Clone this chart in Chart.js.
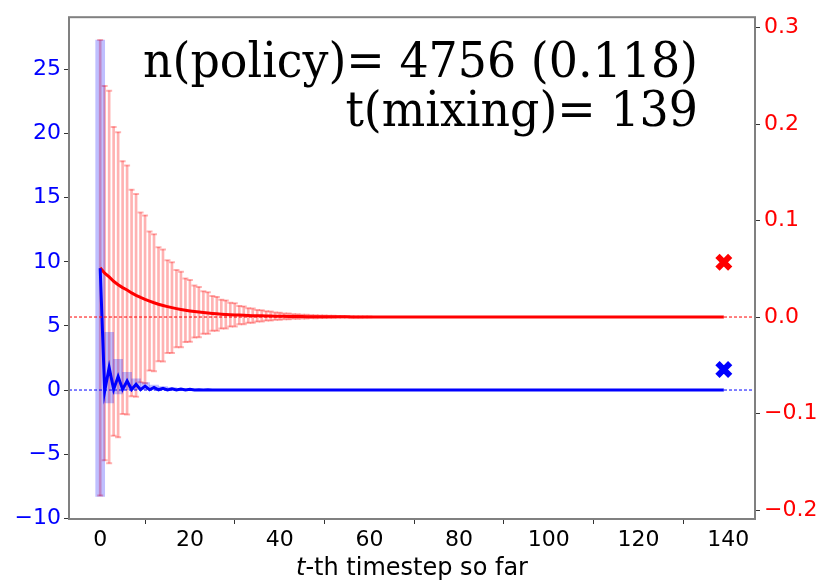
<!DOCTYPE html>
<html>
<head>
<meta charset="utf-8">
<script src="https://cdn.jsdelivr.net/npm/chart.js@4.4.1/dist/chart.umd.min.js"></script>
<style>
  html, body { margin: 0; padding: 0; background: #fff; }
  #wrap { width: 831px; height: 588px; position: relative; }
</style>
</head>
<body>
<div id="wrap"><canvas id="canvas"></canvas></div>
<script>
// ---- data ----
var redMean = [
  0.051, 0.0455, 0.0415, 0.037, 0.0335, 0.0305, 0.028, 0.025, 0.0225, 0.0203,
  0.0183, 0.0165, 0.0148, 0.0133, 0.012, 0.0108, 0.0097, 0.0087, 0.0078, 0.007,
  0.0063, 0.0057, 0.0051, 0.0046, 0.0041, 0.0037, 0.0033, 0.003, 0.0027, 0.0024,
  0.0022, 0.002, 0.0018, 0.0016, 0.0014, 0.0013, 0.0012, 0.0011, 0.001, 0.0009,
  0.0008, 0.0007, 0.0006, 0.0006, 0.0005, 0.0005, 0.0004, 0.0004, 0.0003, 0.0003,
  0.0003, 0.0002, 0.0002, 0.0002, 0.0002, 0.0002, 0.0001, 0.0001, 0.0001, 0.0001,
  0.0001, 0.0001, 0.0001, 0, 0, 0, 0, 0, 0, 0,
  0, 0, 0, 0, 0, 0, 0, 0, 0, 0,
  0, 0, 0, 0, 0, 0, 0, 0, 0, 0,
  0, 0, 0, 0, 0, 0, 0, 0, 0, 0,
  0, 0, 0, 0, 0, 0, 0, 0, 0, 0,
  0, 0, 0, 0, 0, 0, 0, 0, 0, 0,
  0, 0, 0, 0, 0, 0, 0, 0, 0, 0,
  0, 0, 0, 0, 0, 0, 0, 0, 0, 0
];
var redSd = [
  0.236,
  0.194, 0.193, 0.16, 0.158, 0.131, 0.129, 0.107, 0.105, 0.088, 0.087,
  0.072, 0.071, 0.059, 0.058, 0.048, 0.047, 0.04, 0.039, 0.033, 0.032,
  0.027, 0.026, 0.022, 0.0215, 0.018, 0.0175, 0.015, 0.0145, 0.0123, 0.012,
  0.0095, 0.0092, 0.0076, 0.0074, 0.006, 0.0058, 0.0048, 0.0047, 0.0038, 0.0037,
  0.003, 0.003, 0.0024, 0.0024, 0.0019, 0.0019, 0.0015, 0.0015, 0.0012, 0.0012,
  0.001, 0.001, 0.0008, 0.0008, 0.0006, 0.0006, 0.0005, 0.0005, 0.0004, 0.0004
];
var blueMean = [
  9.5, -0.1, 1.75, 0.05, 1.05, 0.05, 0.7, 0.04, 0.45, 0.03,
  0.3, 0.02, 0.2, 0.02, 0.14, 0.01, 0.1, 0.01, 0.07, 0.01,
  0.05, 0, 0.03, 0, 0.02, 0, 0.01, 0, 0, 0,
  0, 0, 0, 0, 0, 0, 0, 0, 0, 0,
  0, 0, 0, 0, 0, 0, 0, 0, 0, 0,
  0, 0, 0, 0, 0, 0, 0, 0, 0, 0,
  0, 0, 0, 0, 0, 0, 0, 0, 0, 0,
  0, 0, 0, 0, 0, 0, 0, 0, 0, 0,
  0, 0, 0, 0, 0, 0, 0, 0, 0, 0,
  0, 0, 0, 0, 0, 0, 0, 0, 0, 0,
  0, 0, 0, 0, 0, 0, 0, 0, 0, 0,
  0, 0, 0, 0, 0, 0, 0, 0, 0, 0,
  0, 0, 0, 0, 0, 0, 0, 0, 0, 0,
  0, 0, 0, 0, 0, 0, 0, 0, 0, 0
];
var blueBandT = [0, 2, 4, 6, 8, 10, 12, 14, 16, 18, 20, 22];
var blueBandSd = [17.8, 2.75, 1.35, 0.68, 0.42, 0.28, 0.19, 0.13, 0.09, 0.06, 0.04, 0.03];

var finalT = 139;
var blueFinal = 1.6;
var redFinal = 0.0567;

var xTicks = [0, 20, 40, 60, 80, 100, 120, 140];
var leftTicks = [-10, -5, 0, 5, 10, 15, 20, 25];
var rightTicks = [-0.2, -0.1, 0.0, 0.1, 0.2, 0.3];

var textLine1 = "n(policy)= 4756 (0.118)";
var textLine2 = "t(mixing)= 139";

// ---- build datasets ----
var blueLine = blueMean.map(function(v, i) { return { x: i, y: v }; });
var redLine = redMean.map(function(v, i) { return { x: i, y: v }; });
var redBars = [], redCapsHi = [], redCapsLo = [];
redSd.forEach(function(sd, i) {
  var m = redMean[i];
  redBars.push({ x: i, y: [m - sd, m + sd] });
  redCapsHi.push({ x: i, y: m + sd });
  redCapsLo.push({ x: i, y: m - sd });
});
var blueBand = blueBandT.map(function(t, k) {
  var m = blueMean[t];
  return { x: t, y: [m - blueBandSd[k], m + blueBandSd[k]] };
});

var TICK_FONT = { family: "DejaVu Sans", size: 22 };

function minusFmt(s) { return s.replace("-", "\u2212"); }

var overlay = {
  id: "overlay",
  afterDatasetsDraw: function(chart) {
    var ctx = chart.ctx, a = chart.chartArea;
    var yl = chart.scales.y, yr = chart.scales.y2;
    ctx.save();
    ctx.lineWidth = 1;
    ctx.setLineDash([3, 2]);
    ctx.strokeStyle = "#ff0000";
    var py = yr.getPixelForValue(0);
    ctx.beginPath(); ctx.moveTo(a.left, py); ctx.lineTo(a.right, py); ctx.stroke();
    ctx.strokeStyle = "#0000ff";
    py = yl.getPixelForValue(0);
    ctx.beginPath(); ctx.moveTo(a.left, py); ctx.lineTo(a.right, py); ctx.stroke();
    ctx.restore();
  },
  afterDraw: function(chart) {
    var ctx = chart.ctx, a = chart.chartArea;
    ctx.save();
    // frame
    ctx.strokeStyle = "#808080";
    ctx.lineWidth = 2;
    ctx.strokeRect(a.left, a.top, a.right - a.left, a.bottom - a.top);
    // annotation text
    ctx.fillStyle = "#000";
    ctx.font = '48px "DejaVu Serif"';
    ctx.textAlign = "right";
    ctx.textBaseline = "alphabetic";
    var sx = 555 / ctx.measureText(textLine1).width;
    ctx.save(); ctx.translate(698, 77); ctx.scale(sx, 1); ctx.fillText(textLine1, 0, 0); ctx.restore();
    ctx.save(); ctx.translate(698, 126); ctx.scale(sx, 1); ctx.fillText(textLine2, 0, 0); ctx.restore();
    // x axis title with italic t
    ctx.textAlign = "left";
    ctx.font = 'italic 24px "DejaVu Sans"';
    var w1 = ctx.measureText("t").width;
    ctx.font = '24px "DejaVu Sans"';
    var rest = "-th timestep so far";
    var w2 = ctx.measureText(rest).width;
    var cx = (a.left + a.right) / 2;
    var x0 = cx - (w1 + w2) / 2;
    ctx.font = 'italic 24px "DejaVu Sans"';
    ctx.fillText("t", x0, 575);
    ctx.font = '24px "DejaVu Sans"';
    ctx.fillText(rest, x0 + w1, 575);
    ctx.restore();
  }
};

var ctx = document.getElementById("canvas").getContext("2d");
window.myChart = new Chart(ctx, {
  type: "line",
  data: {
    datasets: [
      {
        type: "scatter", label: "final-blue", data: [{ x: finalT, y: blueFinal }], yAxisID: "y",
        pointStyle: "crossRot", pointRadius: 9, borderWidth: 6,
        borderColor: "#0000ff", backgroundColor: "#0000ff", order: 0
      },
      {
        type: "scatter", label: "final-red", data: [{ x: finalT, y: redFinal }], yAxisID: "y2",
        pointStyle: "crossRot", pointRadius: 9, borderWidth: 6,
        borderColor: "#ff0000", backgroundColor: "#ff0000", order: 0
      },
      {
        type: "line", label: "blue", data: blueLine, yAxisID: "y",
        borderColor: "#0000ff", borderWidth: 3, pointRadius: 0, tension: 0, order: 1
      },
      {
        type: "line", label: "red", data: redLine, yAxisID: "y2",
        borderColor: "#ff0000", borderWidth: 3, pointRadius: 0, tension: 0, order: 2
      },
      {
        type: "bar", label: "blue band", data: blueBand, yAxisID: "y",
        backgroundColor: "rgba(0,0,255,0.25)", borderWidth: 0, borderSkipped: false,
        barThickness: 9, grouped: false, order: 3
      },
      {
        type: "scatter", label: "caps hi", data: redCapsHi, yAxisID: "y2",
        pointStyle: "line", pointRadius: 3, borderWidth: 2,
        borderColor: "rgba(255,0,0,0.3)", order: 4
      },
      {
        type: "scatter", label: "caps lo", data: redCapsLo, yAxisID: "y2",
        pointStyle: "line", pointRadius: 3, borderWidth: 2,
        borderColor: "rgba(255,0,0,0.3)", order: 4
      },
      {
        type: "bar", label: "red bars", data: redBars, yAxisID: "y2",
        backgroundColor: "rgba(255,0,0,0.3)", borderWidth: 0, borderSkipped: false,
        barThickness: 2, grouped: false, order: 5
      }
    ]
  },
  options: {
    responsive: true,
    maintainAspectRatio: false,
    animation: false,
    layout: { padding: { top: 8, left: 0, right: 0, bottom: 0 } },
    plugins: { legend: { display: false }, tooltip: { enabled: false }, title: { display: false } },
    scales: {
      x: {
        type: "linear", min: -6.95, max: 145.95, offset: false,
        afterFit: function(s) { s.height = 69; },
        afterBuildTicks: function(s) { s.ticks = xTicks.map(function(v) { return { value: v }; }); },
        grid: { drawOnChartArea: false, drawTicks: true, tickLength: 5, color: "#333" },
        border: { display: false },
        ticks: { color: "#000", font: TICK_FONT, padding: 3, autoSkip: false, maxRotation: 0 }
      },
      y: {
        type: "linear", position: "left", min: -10.06, max: 29.08,
        afterFit: function(s) { s.width = 69; },
        afterBuildTicks: function(s) { s.ticks = leftTicks.map(function(v) { return { value: v }; }); },
        grid: { drawOnChartArea: false, drawTicks: true, tickLength: 5, color: "#333" },
        border: { display: false },
        ticks: { color: "#0000ff", font: TICK_FONT, padding: 3, autoSkip: false,
          callback: function(v) { return minusFmt(String(v)); } }
      },
      y2: {
        type: "linear", position: "right", min: -0.2093, max: 0.3107,
        afterFit: function(s) { s.width = 76; },
        afterBuildTicks: function(s) { s.ticks = rightTicks.map(function(v) { return { value: v }; }); },
        grid: { drawOnChartArea: false, drawTicks: true, tickLength: 5, color: "#333" },
        border: { display: false },
        ticks: { color: "#ff0000", font: TICK_FONT, padding: 4, autoSkip: false,
          callback: function(v) { return minusFmt(Number(v).toFixed(1)); } }
      }
    }
  },
  plugins: [overlay]
});
</script>
</body>
</html>
